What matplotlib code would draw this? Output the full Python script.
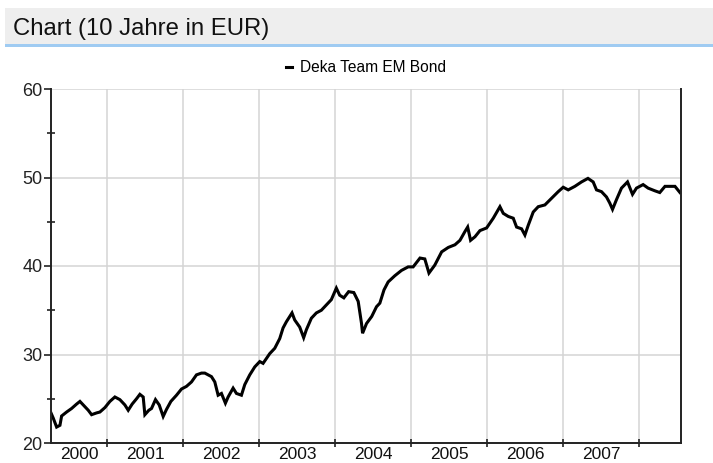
import matplotlib
matplotlib.use("Agg")
import matplotlib.pyplot as plt
import matplotlib.dates as mdates
from matplotlib.patches import Rectangle
from matplotlib.lines import Line2D
import numpy as np
import datetime as dt

plt.rcParams['font.family'] = ['Liberation Sans', 'DejaVu Sans']

title = "Chart (10 Jahre in EUR)"
series_name = "Deka Team EM Bond"

dates = [
    "2000-04-07", "2000-04-18", "2000-05-04", "2000-05-20", "2000-05-28", "2000-06-21",
    "2000-07-15", "2000-08-08", "2000-08-24", "2000-09-17", "2000-10-03", "2000-10-19",
    "2000-11-12", "2000-11-28", "2000-12-22", "2001-01-15", "2001-02-08", "2001-03-04",
    "2001-03-28", "2001-04-13", "2001-05-02", "2001-05-23", "2001-06-08", "2001-06-24",
    "2001-07-02", "2001-07-21", "2001-08-03", "2001-08-22", "2001-09-09", "2001-09-28",
    "2001-10-14", "2001-11-04", "2001-12-01", "2001-12-25", "2002-01-18", "2002-02-11",
    "2002-03-07", "2002-03-31", "2002-04-16", "2002-05-18", "2002-06-03", "2002-06-19",
    "2002-07-05", "2002-07-24", "2002-08-06", "2002-08-30", "2002-09-15", "2002-10-09",
    "2002-10-25", "2002-11-18", "2002-12-12", "2003-01-05", "2003-01-21", "2003-02-22",
    "2003-03-18", "2003-04-11", "2003-04-27", "2003-05-13", "2003-06-09", "2003-06-22",
    "2003-07-16", "2003-08-04", "2003-08-17", "2003-09-10", "2003-10-04", "2003-10-28",
    "2003-11-21", "2003-12-15", "2004-01-08", "2004-01-24", "2004-02-13", "2004-03-07",
    "2004-04-01", "2004-04-22", "2004-05-08", "2004-05-13", "2004-06-01", "2004-06-26",
    "2004-07-19", "2004-08-04", "2004-08-24", "2004-09-13", "2004-10-15", "2004-11-16",
    "2004-12-18", "2005-01-11", "2005-02-13", "2005-03-08", "2005-03-28", "2005-04-25",
    "2005-05-28", "2005-06-29", "2005-07-31", "2005-08-24", "2005-09-17", "2005-09-30",
    "2005-10-14", "2005-11-04", "2005-11-28", "2005-12-30", "2006-01-31", "2006-03-04",
    "2006-03-20", "2006-04-13", "2006-05-07", "2006-05-23", "2006-06-16", "2006-07-02",
    "2006-07-18", "2006-08-11", "2006-09-04", "2006-10-06", "2006-11-07", "2006-12-09",
    "2007-01-02", "2007-01-26", "2007-02-27", "2007-03-31", "2007-05-01", "2007-05-26",
    "2007-06-11", "2007-07-05", "2007-07-29", "2007-08-14", "2007-08-27", "2007-09-15",
    "2007-10-09", "2007-11-07", "2007-12-01", "2007-12-20", "2008-01-21", "2008-02-14",
    "2008-03-17", "2008-04-10", "2008-05-05", "2008-06-06", "2008-06-22", "2008-07-16",
]
values = [
    23.4, 22.8, 21.8, 22.0, 23.05, 23.5,
    23.9, 24.4, 24.7, 24.1, 23.7, 23.2,
    23.4, 23.5, 24.0, 24.7, 25.2, 24.9,
    24.3, 23.7, 24.4, 25.0, 25.5, 25.2,
    23.2, 23.7, 23.9, 24.9, 24.3, 23.0,
    23.8, 24.7, 25.4, 26.1, 26.4, 26.9,
    27.7, 27.9, 27.9, 27.5, 26.9, 25.4,
    25.6, 24.5, 25.2, 26.2, 25.6, 25.4,
    26.6, 27.7, 28.6, 29.2, 29.0, 30.1,
    30.7, 31.8, 33.0, 33.7, 34.7, 33.9,
    33.1, 31.9, 32.8, 34.1, 34.7, 35.0,
    35.6, 36.2, 37.5, 36.7, 36.4, 37.1,
    37.0, 36.0, 33.5, 32.4, 33.5, 34.3,
    35.4, 35.8, 37.3, 38.2, 38.9, 39.5,
    39.9, 39.9, 40.9, 40.8, 39.2, 40.1,
    41.6, 42.1, 42.4, 42.9, 43.9, 44.4,
    42.9, 43.3, 44.0, 44.3, 45.4, 46.7,
    45.95, 45.6, 45.4, 44.4, 44.2, 43.5,
    44.6, 46.1, 46.7, 46.9, 47.65, 48.4,
    48.9, 48.6, 49.0, 49.5, 49.9, 49.5,
    48.6, 48.4, 47.8, 47.1, 46.4, 47.5,
    48.8, 49.5, 48.1, 48.8, 49.2, 48.8,
    48.5, 48.3, 49.0, 49.0, 49.0, 48.3,
]
year_labels = ["2000", "2001", "2002", "2003", "2004", "2005", "2006", "2007"]
y_major = [20, 30, 40, 50, 60]
y_minor = [25, 35, 45, 55]
x_start = "2000-04-07"
x_end = "2008-07-21"

W, H = 713, 463
fig = plt.figure(figsize=(W / 100, H / 100), dpi=100)

# header band
fig.patches.append(Rectangle((5 / W, 1 - 44 / H), 1, 36 / H, transform=fig.transFigure,
                             facecolor="#eeeeee", edgecolor="none", zorder=0))
fig.patches.append(Rectangle((5 / W, 1 - 47 / H), 1, 3 / H, transform=fig.transFigure,
                             facecolor="#9fcbf2", edgecolor="none", zorder=0))
fig.text(13 / W, 1 - 29 / H, title, fontsize=17.2, va="center", ha="left", color="#111111")

ax = fig.add_axes([51 / W, 20 / H, 630 / W, 354 / H])
d = [dt.datetime.strptime(s, "%Y-%m-%d") for s in dates]
ax.plot(d, values, color="black", lw=2.2, solid_joinstyle="miter")

xs = dt.datetime.strptime(x_start, "%Y-%m-%d")
xe = dt.datetime.strptime(x_end, "%Y-%m-%d")
ax.set_xlim(xs, xe)
ax.set_ylim(20, 60)

ax.set_yticks(y_major)
ax.set_yticks(y_minor, minor=True)
ax.set_yticklabels([str(v) for v in y_major])

year_starts = [dt.datetime(int(y) + 1, 1, 1) for y in year_labels]
ax.set_xticks(year_starts)
ax.set_xticklabels([])
# labels centered in visible year intervals
bounds = [xs] + year_starts + [xe]
for i, lab in enumerate(year_labels):
    a = mdates.date2num(bounds[i]); b = mdates.date2num(bounds[i + 1])
    ax.text((a + b) / 2, -0.01, lab, transform=ax.get_xaxis_transform(),
            ha="center", va="top", fontsize=12.5, color="#111111")

ax.grid(True, which="major", color="#d4d4d4", lw=1.1)
ax.set_axisbelow(True)
for s in ["left", "bottom", "right"]:
    ax.spines[s].set_color("#222222")
    ax.spines[s].set_linewidth(1.4)
ax.spines["top"].set_visible(False)
ax.tick_params(axis="y", which="major", direction="out", length=5, width=1.2,
               labelsize=13, pad=1, colors="#222222")
ax.tick_params(axis="y", which="minor", direction="inout", length=6, width=1.2, colors="#222222")
ax.tick_params(axis="x", which="major", direction="inout", length=6, width=1.2, colors="#222222")

handle = Line2D([0], [0], color="black", lw=2.2)
fig.legend([handle], [series_name], loc="center", bbox_to_anchor=(366 / W, 1 - 68 / H),
           frameon=False, fontsize=11.2, handlelength=0.4, handletextpad=0.5)

fig.savefig("out.png", dpi=100)
